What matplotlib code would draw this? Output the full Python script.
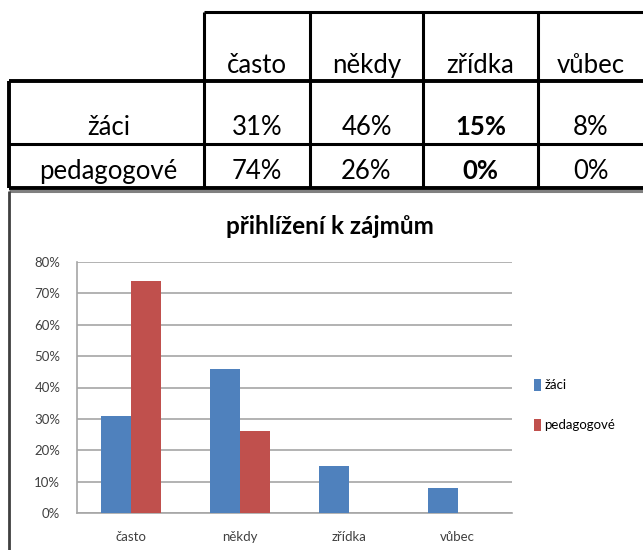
import matplotlib
matplotlib.use("Agg")
import matplotlib.pyplot as plt
import numpy as np

categories = ["často", "někdy", "zřídka", "vůbec"]
groups = ["žáci", "pedagogové"]
zaci = [31, 46, 15, 8]
pedagogove = [74, 26, 0, 0]
bold_col = "zřídka"
title = "přihlížení k zájmům"
yticks = [0, 10, 20, 30, 40, 50, 60, 70, 80]

W, H = 643, 550
FONT = ["Lato", "DejaVu Sans"]
plt.rcParams["font.family"] = FONT

fig = plt.figure(figsize=(W / 100, H / 100), dpi=100)

# overlay axes in pixel coords for table and frame
ov = fig.add_axes([0, 0, 1, 1])
ov.set_xlim(0, W)
ov.set_ylim(H, 0)
ov.axis("off")

# table geometry (pixels)
col_x = [9, 204, 310, 423, 538, 643]
lw = 2.2
ov.plot([204, 643], [12, 12], color="black", lw=lw, solid_capstyle="butt")
ov.plot([9, 643], [81, 81], color="black", lw=lw + 0.6, solid_capstyle="butt")
ov.plot([9, 643], [144, 144], color="black", lw=lw, solid_capstyle="butt")
ov.plot([9, 643], [188, 188], color="black", lw=lw + 0.6, solid_capstyle="butt")
ov.plot([9, 9], [81, 188], color="black", lw=lw + 0.6, solid_capstyle="butt")
for xx in col_x[1:5]:
    ov.plot([xx, xx], [12, 188], color="black", lw=lw, solid_capstyle="butt")

fs_tab = 18.5
for i, c in enumerate(categories):
    cx = (col_x[i + 1] + col_x[i + 2]) / 2
    ov.text(cx, 73, c, ha="center", va="baseline", fontsize=fs_tab)
rows = [zaci, pedagogove]
row_base = [135, 179]
for r, (g, vals) in enumerate(zip(groups, rows)):
    ov.text((col_x[0] + col_x[1]) / 2 + 2, row_base[r], g, ha="center", va="baseline", fontsize=fs_tab)
    for i, v in enumerate(vals):
        cx = (col_x[i + 1] + col_x[i + 2]) / 2
        ov.text(cx, row_base[r], f"{v}%", ha="center", va="baseline", fontsize=fs_tab,
                fontweight="bold" if categories[i] == bold_col else "normal")

# chart frame
ov.plot([9, 643], [191, 191], color="#808080", lw=2.2, solid_capstyle="butt")
ov.plot([9, 9], [191, 550], color="#404040", lw=2.0, solid_capstyle="butt")

# title
ov.text(330, 234, title, ha="center", va="baseline", fontsize=17.5, fontweight="bold")

# chart axes
ax_l, ax_r, ax_t, ax_b = 77, 512, 262, 513
ax = fig.add_axes([ax_l / W, 1 - ax_b / H, (ax_r - ax_l) / W, (ax_b - ax_t) / H])
x = np.arange(len(categories))
bw = 0.276
ax.bar(x - bw / 2, zaci, bw, color="#4F81BD", label=groups[0], zorder=3)
ax.bar(x + bw / 2, pedagogove, bw, color="#C0504D", label=groups[1], zorder=3)
ax.set_xlim(-0.5, len(categories) - 0.5)
ax.set_ylim(0, 80)
ax.set_yticks(yticks)
ax.set_yticklabels([f"{t}%" for t in yticks], fontsize=9.5, color="#404040")
ax.set_xticks(x)
ax.set_xticklabels(categories, fontsize=9.5, color="#404040")
ax.tick_params(axis="both", length=0)
ax.tick_params(axis="x", pad=13)
ax.tick_params(axis="y", pad=12)
ax.yaxis.grid(True, color="#a6a6a6", lw=1.2, zorder=0)
for s in ["top", "right"]:
    ax.spines[s].set_visible(False)
for s in ["left", "bottom"]:
    ax.spines[s].set_color("#a6a6a6")
    ax.spines[s].set_linewidth(1.2)

ax.legend(loc="center left", bbox_to_anchor=(1.035, 0.43), frameon=False,
          fontsize=9.5, handlelength=0.55, handleheight=1.0, handletextpad=0.25,
          labelspacing=2.1, borderpad=0)

fig.savefig("out.png", dpi=100)
